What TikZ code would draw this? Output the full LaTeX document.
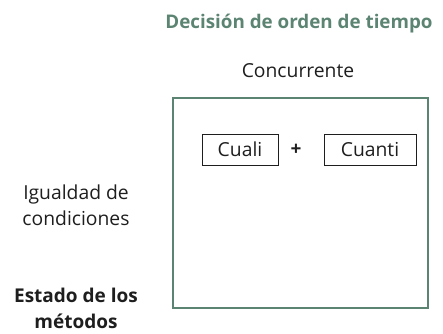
\documentclass[tikz,border=0pt]{standalone}
\usepackage{fontspec}
\setmainfont{Open Sans}
\definecolor{sage}{RGB}{92,132,114}
\definecolor{ink}{RGB}{30,30,30}
\begin{document}
\begin{tikzpicture}[x=1pt,y=-1pt,
  lbl/.style={text=ink,font=\fontsize{19.3}{26}\selectfont,inner sep=0pt,align=center},
  boldlbl/.style={lbl,font=\fontsize{19}{26}\selectfont\bfseries},
  method/.style={draw=ink,line width=0.8pt,text=ink,font=\fontsize{19.3}{26}\selectfont,
    minimum height=31pt,inner sep=0pt,anchor=center}]
\useasboundingbox (0,0) rectangle (443,333);
\node[boldlbl,text=sage,anchor=base,font=\fontsize{18.8}{26}\selectfont\bfseries] (title) at (299,28) {Decisión de orden de tiempo};
\node[lbl,anchor=base] (conc) at (298,77) {Concurrente};
\draw[sage,line width=2pt] (173,98) rectangle (427.5,308);
\node[method,minimum width=76pt] (cuali) at (240,149.5) {Cuali};
\node[method,minimum width=92pt] (cuanti) at (370,149.5) {Cuanti};
\node[boldlbl] (plus) at (296,150) {+};
\node[lbl,anchor=base] (igual) at (76,225) {Igualdad de\\condiciones};
\node[boldlbl,anchor=base] (estado) at (76,328) {Estado de los\\métodos};
\end{tikzpicture}
\end{document}
